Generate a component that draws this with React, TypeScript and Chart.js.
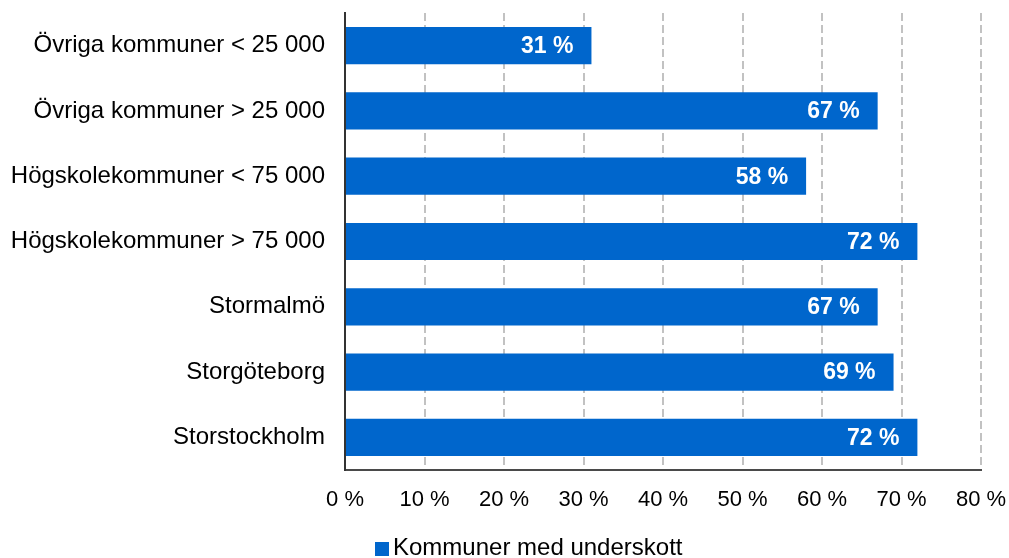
import React, { useEffect, useRef } from "react";
import { Chart, registerables } from "chart.js";

Chart.register(...registerables);

const categories = [
  "Övriga kommuner < 25 000",
  "Övriga kommuner > 25 000",
  "Högskolekommuner < 75 000",
  "Högskolekommuner > 75 000",
  "Stormalmö",
  "Storgöteborg",
  "Storstockholm",
];
const values = [31, 67, 58, 72, 67, 69, 72];
const seriesLabel = "Kommuner med underskott";
const barColor = "#0066cc";
const FONT = "'Liberation Sans', Arial, sans-serif";

const labelPlugin = {
  id: "valueLabels",
  afterDatasetsDraw(chart: any) {
    const ctx = chart.ctx;
    const meta = chart.getDatasetMeta(0);
    ctx.save();
    ctx.font = `bold 23px ${FONT}`;
    ctx.fillStyle = "#ffffff";
    ctx.textAlign = "right";
    ctx.textBaseline = "middle";
    meta.data.forEach((bar: any, i: number) => {
      ctx.fillText(`${values[i]} %`, bar.x - 18, bar.y + 1);
    });
    ctx.restore();
  },
};

const legendPlugin = {
  id: "customLegend",
  afterDraw(chart: any) {
    const ctx = chart.ctx;
    ctx.save();
    ctx.fillStyle = barColor;
    ctx.fillRect(375, 542, 14, 14);
    ctx.font = `24px ${FONT}`;
    ctx.fillStyle = "#000000";
    ctx.textAlign = "left";
    ctx.textBaseline = "middle";
    ctx.fillText(chart.data.datasets[0].label, 393, 548);
    ctx.restore();
  },
};

export default function App() {
  const ref = useRef<HTMLCanvasElement>(null);
  useEffect(() => {
    if (!ref.current) return;
    const chart = new Chart(ref.current, {
      type: "bar",
      data: {
        labels: categories,
        datasets: [
          {
            label: seriesLabel,
            data: values,
            backgroundColor: barColor,
            barPercentage: 0.57,
            categoryPercentage: 1,
          },
        ],
      },
      options: {
        indexAxis: "y",
        responsive: false,
        animation: false,
        layout: { padding: { top: 13, right: 28, bottom: 38, left: 0 } },
        plugins: {
          legend: { display: false },
          tooltip: { enabled: false },
        },
        scales: {
          x: {
            min: 0,
            max: 80,
            ticks: {
              stepSize: 10,
              color: "#000000",
              font: { family: FONT, size: 22 },
              padding: 17,
              maxRotation: 0,
              autoSkip: false,
              callback: (v: any) => `${v} %`,
            },
            grid: {
              color: (c: any) => (c.tick && c.tick.value === 0 ? "rgba(0,0,0,0)" : "#c2c2c2"),
              lineWidth: 2,
              drawTicks: false,
              tickLength: 0,
            },
            border: { display: true, color: "#4a4a4a", width: 2, dash: [8, 4] },
            afterFit: (s: any) => {
              s.height = 50;
              s.paddingLeft = 0;
              s.paddingRight = 0;
            },
          },
          y: {
            ticks: {
              color: "#000000",
              font: { family: FONT, size: 24 },
              padding: 20,
              autoSkip: false,
            },
            grid: { display: false, drawTicks: false },
            border: { display: true, color: "#333333", width: 2 },
            afterFit: (s: any) => {
              s.width = 345;
              s.paddingTop = 0;
              s.paddingBottom = 0;
            },
          },
        },
      },
      plugins: [labelPlugin, legendPlugin],
    });
    return () => chart.destroy();
  }, []);
  return (
    <div style={{ position: "fixed", left: 0, top: 0, width: 1009, height: 558, background: "#fff" }}>
      <canvas ref={ref} width={1009} height={558} style={{ width: 1009, height: 558 }} />
    </div>
  );
}
